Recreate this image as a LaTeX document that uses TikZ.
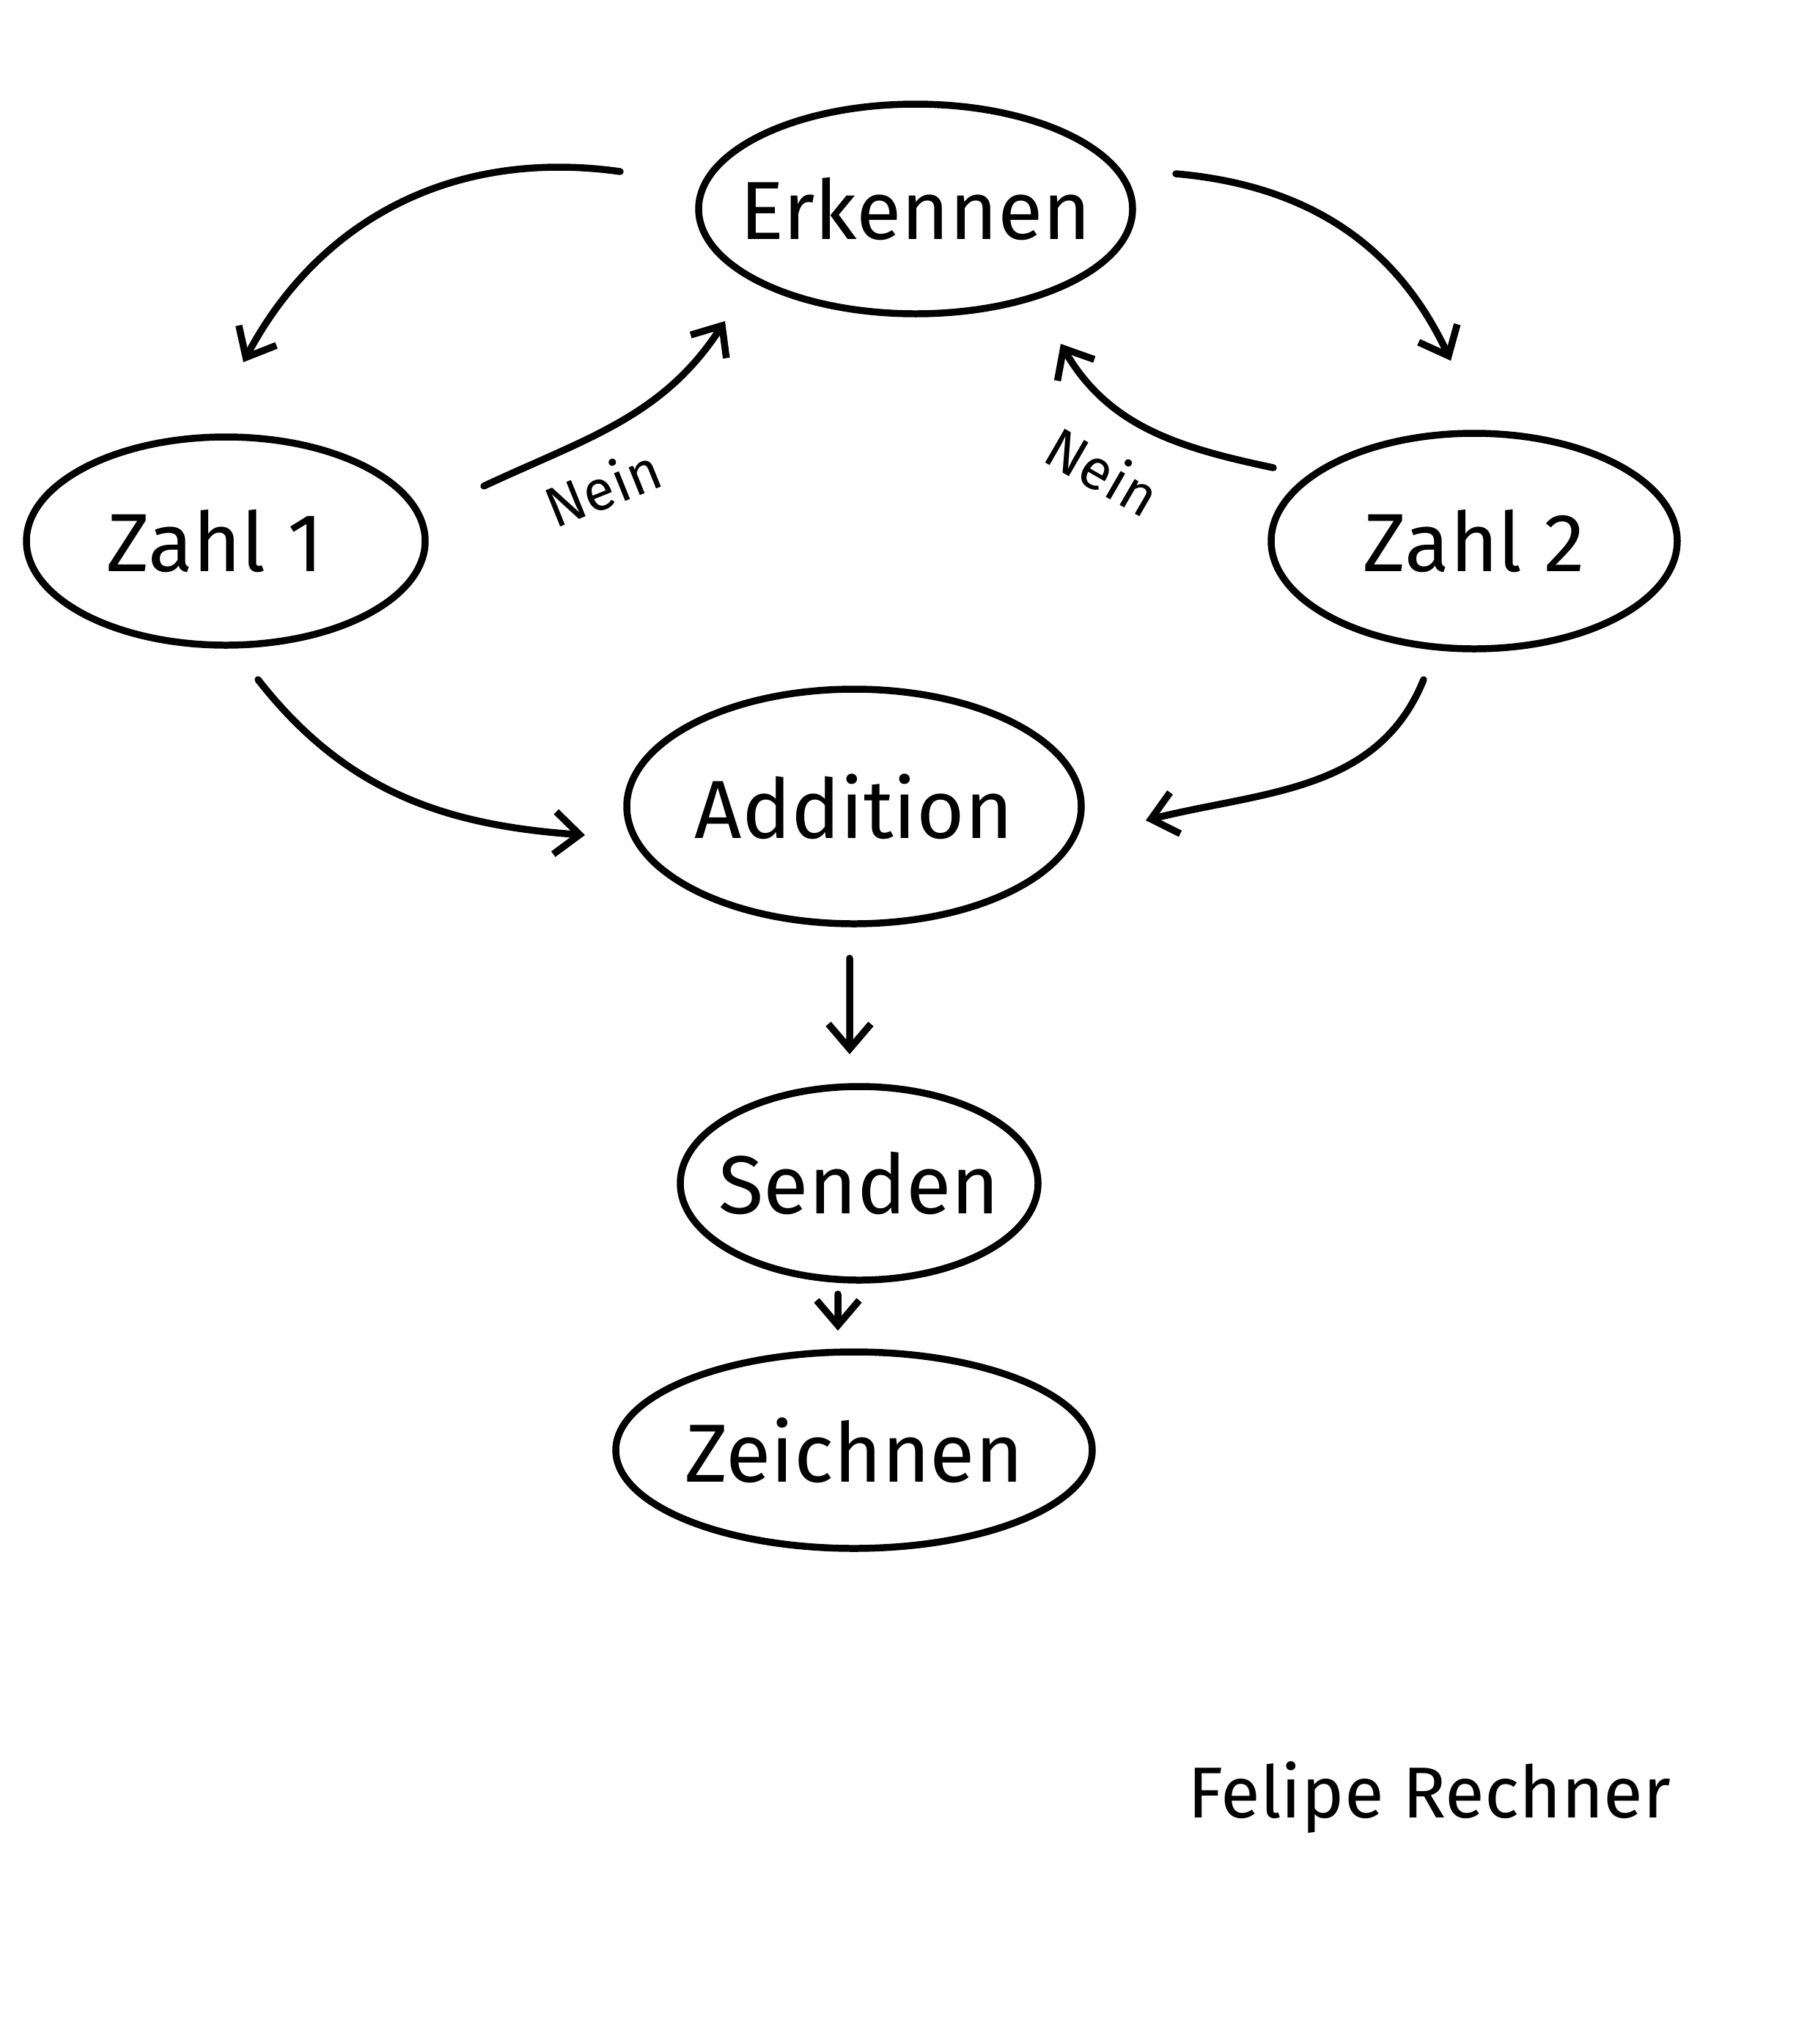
\documentclass[tikz,border=0pt]{standalone}
\usepackage{fontspec}
\setmainfont{Fira Sans}
\usetikzlibrary{shapes.geometric,arrows.meta,calc}
\tikzset{
  stat/.style={draw, ellipse, line width=2.7pt, inner sep=0pt},
  nodetext/.style={font=\fontsize{32}{38}\selectfont},
  conn/.style={line width=2.7pt, line cap=round, -{Straight Barb[length=0.34cm,width=0.58cm,line width=2.7pt]}},
  lab/.style={font=\fontsize{22}{26}\selectfont},
}
\begin{document}
\begin{tikzpicture}
\fill[white] (0,0) rectangle (24.8,-27.88);
\useasboundingbox (0,0) rectangle (24.8,-27.88);

\node[stat, minimum width=5.92cm, minimum height=2.86cm, label={[nodetext]center:Erkennen}] (erk) at (12.49,-2.85) {};
\node[stat, minimum width=5.44cm, minimum height=2.84cm, label={[nodetext, xshift=-0.15cm]center:Zahl 1}] (z1) at (3.08,-7.38) {};
\node[stat, minimum width=5.54cm, minimum height=2.94cm, label={[nodetext]center:Zahl 2}] (z2) at (20.11,-7.38) {};
\node[stat, minimum width=6.20cm, minimum height=3.20cm, label={[nodetext]center:Addition}] (add) at (11.65,-11.00) {};
\node[stat, minimum width=4.88cm, minimum height=2.64cm, label={[nodetext]center:Senden}] (sen) at (11.72,-16.14) {};
\node[stat, minimum width=6.50cm, minimum height=2.68cm, label={[nodetext]center:Zeichnen}] (zei) at (11.65,-19.78) {};

% Erkennen -> Zahl 1
\draw[conn] ($(erk.center)+(-4.03,0.51)$) to[out=172,in=62] ($(z1.center)+(0.24,2.44)$);
% Zahl 1 -> Erkennen (Nein)
\draw[conn] ($(z1.center)+(3.52,0.75)$) to[out=25,in=237] ($(erk.center)+(-2.60,-1.53)$);
% Erkennen -> Zahl 2
\draw[conn] ($(erk.center)+(3.55,0.48)$) to[out=-5,in=115] ($(z2.center)+(-0.32,2.46)$);
% Zahl 2 -> Erkennen (Nein)
\draw[conn] ($(z2.center)+(-2.74,1.00)$) to[out=168,in=-60] ($(erk.center)+(1.98,-1.84)$);
% Zahl 1 -> Addition
\draw[conn] ($(z1.center)+(0.44,-1.89)$) to[out=-52,in=176] ($(add.center)+(-3.67,-0.39)$);
% Zahl 2 -> Addition
\draw[conn] ($(z2.center)+(-0.69,-1.89)$) to[out=-112,in=14] ($(add.center)+(3.98,-0.19)$);
% Addition -> Senden
\draw[conn] ($(add.center)+(-0.06,-2.07)$) -- ($(sen.center)+(-0.13,1.76)$);
% Senden -> Zeichnen
\draw[conn] ($(sen.center)+(-0.29,-1.51)$) -- ($(zei.center)+(-0.22,1.63)$);

\node[lab, rotate=22] (nein1) at (8.22,-6.64) {Nein};
\node[lab, rotate=-30] (nein2) at (15.05,-6.42) {Nein};

\node[font=\fontsize{28}{32}\selectfont] (author) at (19.50,-24.52) {Felipe Rechner};
\end{tikzpicture}
\end{document}
